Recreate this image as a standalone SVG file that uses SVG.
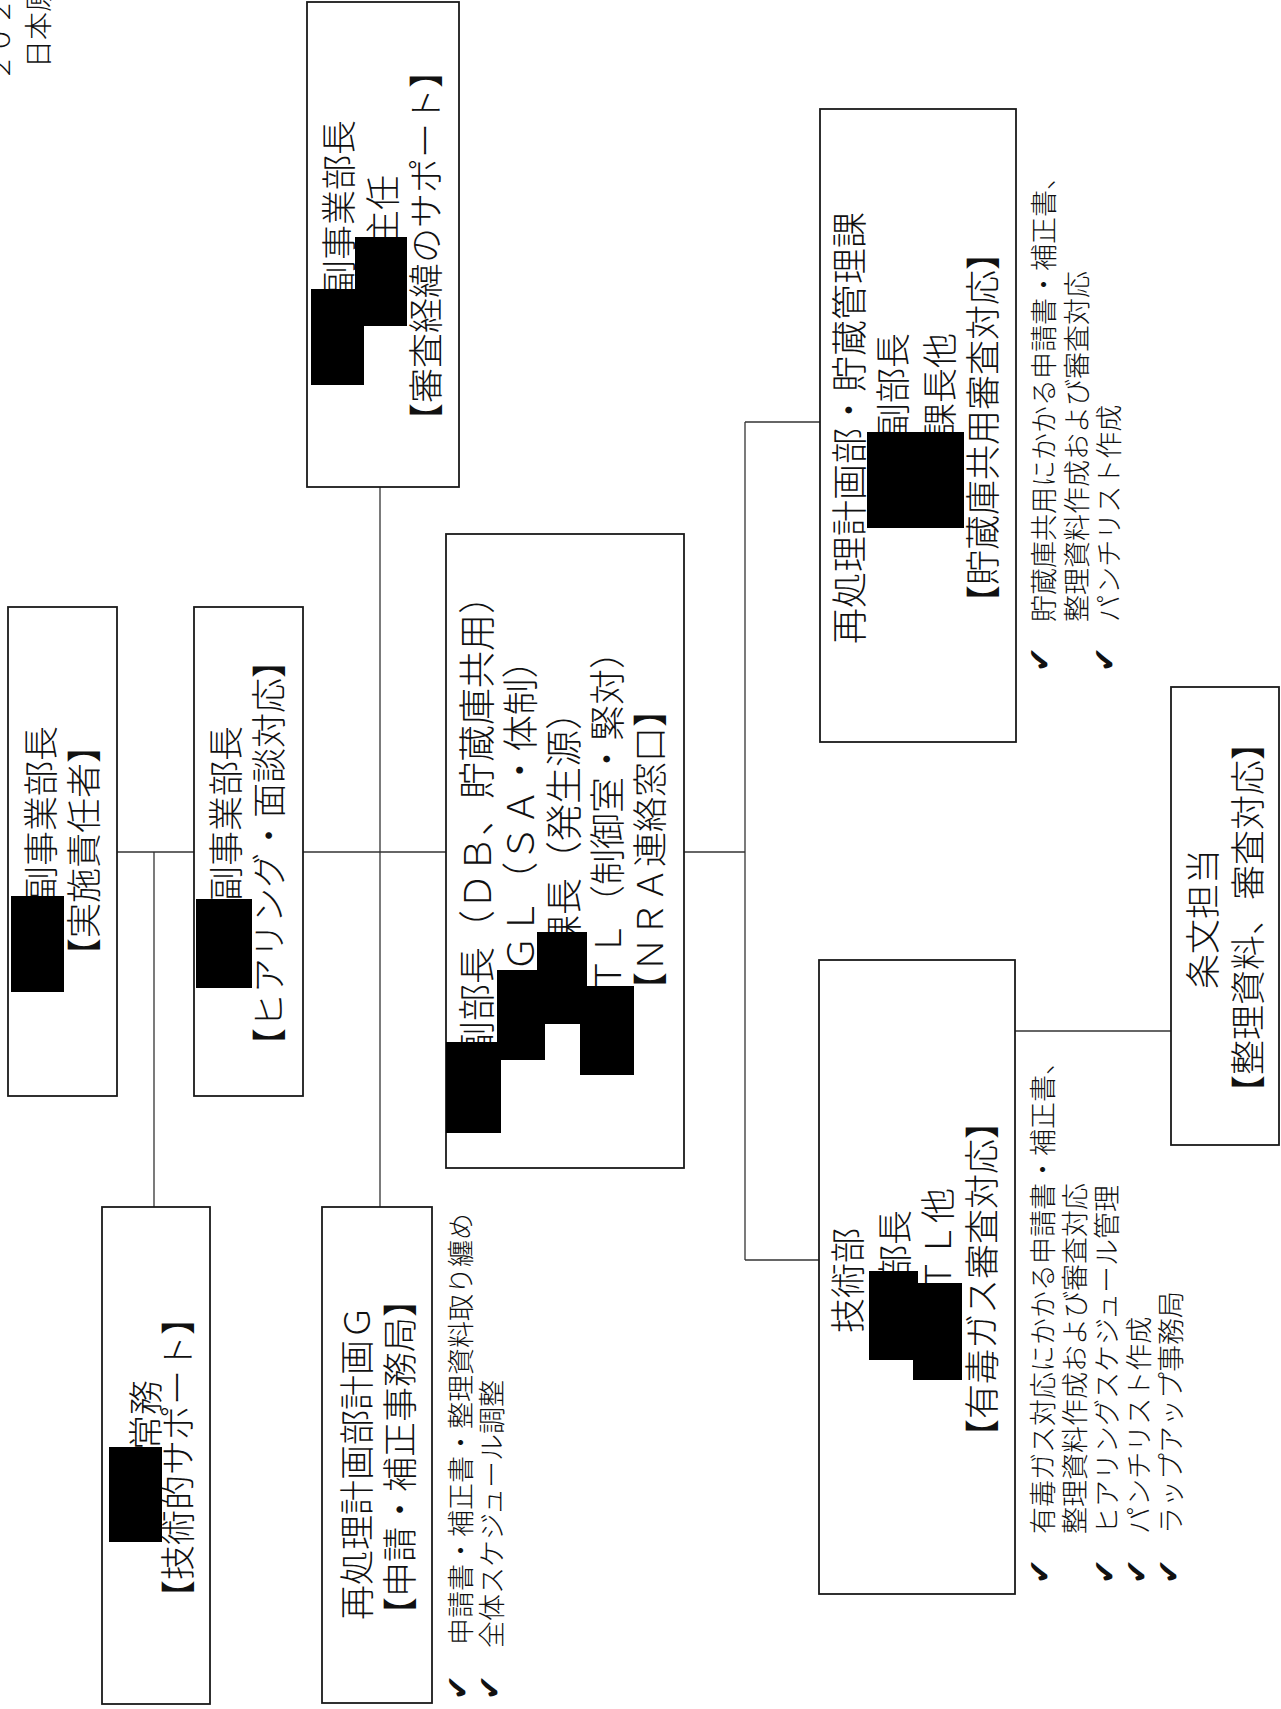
<svg xmlns="http://www.w3.org/2000/svg" width="1281" height="1709" viewBox="0 0 1281 1709">
<style>
.bg{fill:#fff}
.box{fill:#fff;stroke:#1a1a1a;stroke-width:1.8}
.con{stroke:#333;stroke-width:1.3;fill:none}
.red{fill:#000}
text{font-family:"Noto Sans CJK JP","Noto Sans CJK SC",sans-serif;fill:#111;font-weight:300}
.t{font-size:35px}
.t36{font-size:36px}
.t37{font-size:37px}
.s{font-size:27px}
.h{font-size:28px}
.ck{font-family:"DejaVu Sans",sans-serif;font-size:30px;font-weight:normal}
</style>
<rect class="bg" x="0" y="0" width="1281" height="1709"/>

<g id="header">
<text class="h" x="10" y="82" transform="rotate(-90 10 82)">２０２</text>
<text class="h" x="49" y="68" transform="rotate(-90 49 68)">日本原</text>
</g>

<g id="connectors">
<line class="con" x1="380" y1="487" x2="380" y2="1207"/>
<line class="con" x1="117" y1="852" x2="194" y2="852"/>
<line class="con" x1="303" y1="852" x2="446" y2="852"/>
<line class="con" x1="154" y1="852" x2="154" y2="1207"/>
<line class="con" x1="684" y1="852" x2="745" y2="852"/>
<line class="con" x1="745" y1="422" x2="745" y2="1260"/>
<line class="con" x1="745" y1="422" x2="820" y2="422"/>
<line class="con" x1="745" y1="1260" x2="819" y2="1260"/>
<line class="con" x1="1015" y1="1031" x2="1171" y2="1031"/>
</g>

<g id="node-review-support">
<rect class="box" x="307" y="2" width="152" height="485"/>
<text class="t" x="351.5" y="295" transform="rotate(-90 351.5 295)">副事業部長</text>
<text class="t" x="395.5" y="245" transform="rotate(-90 395.5 245)">主任</text>
<text class="t" x="438.5" y="438" transform="rotate(-90 438.5 438)">【審査経緯のサポート】</text>
<rect class="red" x="311" y="289" width="53" height="96"/>
<rect class="red" x="355" y="237" width="52" height="89"/>
</g>

<g id="node-responsible">
<rect class="box" x="8" y="607" width="109" height="489"/>
<text class="t" x="53.5" y="901" transform="rotate(-90 53.5 901)">副事業部長</text>
<text class="t" x="96.5" y="973" transform="rotate(-90 96.5 973)">【実施責任者】</text>
<rect class="red" x="11" y="896" width="53" height="96"/>
</g>

<g id="node-hearing">
<rect class="box" x="194" y="607" width="109" height="489"/>
<text class="t" x="238.5" y="901" transform="rotate(-90 238.5 901)">副事業部長</text>
<text class="t" x="281.5" y="1063" transform="rotate(-90 281.5 1063)">【ヒアリング・面談対応】</text>
<rect class="red" x="196" y="899" width="56" height="89"/>
</g>

<g id="node-center">
<rect class="box" x="446" y="534" width="238" height="634"/>
<text class="t37" x="490.5" y="1058" transform="rotate(-90 490.5 1058)">副部長（ＤＢ、貯蔵庫共用）</text>
<text class="t" style="font-size:36.7px" x="533.5" y="972" transform="rotate(-90 533.5 972)">ＧＬ（ＳＡ・体制）</text>
<text class="t37" x="577.5" y="952" transform="rotate(-90 577.5 952)">課長（発生源）</text>
<text class="t36" x="620.5" y="993" transform="rotate(-90 620.5 993)">ＴＬ（制御室・緊対）</text>
<text class="t" x="662.5" y="1007" transform="rotate(-90 662.5 1007)">【ＮＲＡ連絡窓口】</text>
<rect class="red" x="446" y="1042" width="55" height="91"/>
<rect class="red" x="497" y="970" width="48" height="90"/>
<rect class="red" x="537" y="932" width="50" height="92"/>
<rect class="red" x="580" y="986" width="54" height="89"/>
</g>

<g id="node-managing">
<rect class="box" x="102" y="1207" width="108" height="497"/>
<text class="t" x="158.5" y="1450" transform="rotate(-90 158.5 1450)">常務</text>
<text class="t" x="190.5" y="1615" transform="rotate(-90 190.5 1615)">【技術的サポート】</text>
<rect class="red" x="109" y="1447" width="53" height="95"/>
</g>

<g id="node-planning">
<rect class="box" x="322" y="1207" width="110" height="496"/>
<text class="t" x="369.5" y="1620" transform="rotate(-90 369.5 1620)">再処理計画部計画Ｇ</text>
<text class="t" x="412.5" y="1632" transform="rotate(-90 412.5 1632)">【申請・補正事務局】</text>
<text class="ck" x="468" y="1700" transform="rotate(-90 468 1700)">✔</text>
<text class="s" x="471" y="1645" transform="rotate(-90 471 1645)">申請書・補正書・整理資料取り纏め</text>
<text class="ck" x="500" y="1700" transform="rotate(-90 500 1700)">✔</text>
<text class="s" x="502" y="1648" transform="rotate(-90 502 1648)">全体スケジュール調整</text>
</g>

<g id="node-storage">
<rect class="box" x="820" y="109" width="196" height="633"/>
<text class="t36" x="862.5" y="644" transform="rotate(-90 862.5 644)">再処理計画部・貯蔵管理課</text>
<text class="t" x="905.5" y="438" transform="rotate(-90 905.5 438)">副部長</text>
<text class="t" x="952.5" y="438" transform="rotate(-90 952.5 438)">課長他</text>
<text class="t" x="995.5" y="620" transform="rotate(-90 995.5 620)">【貯蔵庫共用審査対応】</text>
<rect class="red" x="867" y="432" width="97" height="96"/>
<text class="ck" x="1050" y="672" transform="rotate(-90 1050 672)">✔</text>
<text class="s" x="1054" y="622" transform="rotate(-90 1054 622)">貯蔵庫共用にかかる申請書・補正書、</text>
<text class="s" x="1087" y="622" transform="rotate(-90 1087 622)">整理資料作成および審査対応</text>
<text class="ck" x="1115" y="672" transform="rotate(-90 1115 672)">✔</text>
<text class="s" x="1119" y="622" transform="rotate(-90 1119 622)">パンチリスト作成</text>
</g>

<g id="node-tech">
<rect class="box" x="819" y="960" width="196" height="634"/>
<text class="t" x="860.5" y="1333" transform="rotate(-90 860.5 1333)">技術部</text>
<text class="t" x="907.5" y="1280" transform="rotate(-90 907.5 1280)">部長</text>
<text class="t" x="950.5" y="1293" transform="rotate(-90 950.5 1293)">ＴＬ他</text>
<text class="t" x="994.5" y="1454" transform="rotate(-90 994.5 1454)">【有毒ガス審査対応】</text>
<rect class="red" x="869" y="1271" width="49" height="89"/>
<rect class="red" x="913" y="1283" width="49" height="97"/>
<text class="ck" x="1050" y="1584" transform="rotate(-90 1050 1584)">✔</text>
<text class="s" x="1053" y="1534" transform="rotate(-90 1053 1534)">有毒ガス対応にかかる申請書・補正書、</text>
<text class="s" x="1085" y="1534" transform="rotate(-90 1085 1534)">整理資料作成および審査対応</text>
<text class="ck" x="1115" y="1584" transform="rotate(-90 1115 1584)">✔</text>
<text class="s" x="1117" y="1534" transform="rotate(-90 1117 1534)">ヒアリングスケジュール管理</text>
<text class="ck" x="1147" y="1584" transform="rotate(-90 1147 1584)">✔</text>
<text class="s" x="1149" y="1534" transform="rotate(-90 1149 1534)">パンチリスト作成</text>
<text class="ck" x="1179" y="1584" transform="rotate(-90 1179 1584)">✔</text>
<text class="s" x="1181" y="1534" transform="rotate(-90 1181 1534)">ラップアップ事務局</text>
</g>

<g id="node-article">
<rect class="box" x="1171" y="687" width="108" height="458"/>
<text class="t" x="1215.5" y="989" transform="rotate(-90 1215.5 989)">条文担当</text>
<text class="t" x="1260.5" y="1110" transform="rotate(-90 1260.5 1110)">【整理資料、審査対応】</text>
</g>
</svg>
